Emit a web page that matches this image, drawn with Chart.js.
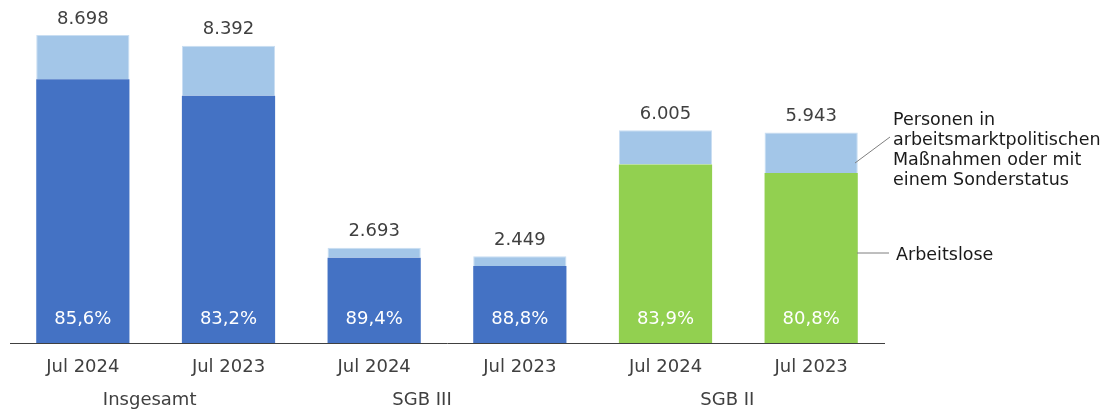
<!DOCTYPE html>
<html>
<head>
<meta charset="utf-8">
<script src="https://cdn.jsdelivr.net/npm/chart.js@4.4.1/dist/chart.umd.min.js"></script>
<style>
  html, body { margin: 0; padding: 0; background: #fff; }
  #wrap { width: 1103px; height: 409px; position: relative; }
</style>
</head>
<body>
<div id="wrap"><canvas id="chart"></canvas></div>
<script>
// Chart data
const periods = ['Jul 2024', 'Jul 2023', 'Jul 2024', 'Jul 2023', 'Jul 2024', 'Jul 2023'];
const groups = ['Insgesamt', 'SGB III', 'SGB II'];
const arbeitslose = [7446, 6982, 2408, 2175, 5038, 4802];
const sonstige = [1252, 1410, 285, 274, 967, 1141];
const totalLabels = ['8.698', '8.392', '2.693', '2.449', '6.005', '5.943'];
const shareLabels = ['85,6%', '83,2%', '89,4%', '88,8%', '83,9%', '80,8%'];

const FONT = '"DejaVu Sans", Verdana, sans-serif';
const darkColors = ['#4472C4', '#4472C4', '#4472C4', '#4472C4', '#92D050', '#92D050'];

// Labels above bars, inside bars, group labels and side notes
const labelPlugin = {
    id: 'labels',
    afterDatasetsDraw(chart) {
        const ctx = chart.ctx;
        const xScale = chart.scales.x;
        const topMeta = chart.getDatasetMeta(1);
        const botMeta = chart.getDatasetMeta(0);
        ctx.save();
        ctx.font = '18px ' + FONT;
        ctx.textAlign = 'center';
        ctx.textBaseline = 'middle';

        topMeta.data.forEach((bar, i) => {
            ctx.fillStyle = '#404040';
            ctx.fillText(totalLabels[i], bar.x, bar.y - 16);
        });
        botMeta.data.forEach((bar, i) => {
            ctx.fillStyle = '#ffffff';
            ctx.fillText(shareLabels[i], bar.x, chart.chartArea.bottom - 24);
        });

        // group labels under each pair
        const offsets = [-6, -25, -11];
        ctx.fillStyle = '#404040';
        groups.forEach((g, i) => {
            const mid = (xScale.getPixelForValue(i * 2) + xScale.getPixelForValue(i * 2 + 1)) / 2;
            ctx.fillText(g, mid + offsets[i], 400);
        });

        // side annotations
        ctx.strokeStyle = '#7f7f7f';
        ctx.lineWidth = 1;
        ctx.beginPath();
        ctx.moveTo(855, 163);
        ctx.lineTo(890, 137);
        ctx.moveTo(857, 253);
        ctx.lineTo(889, 253);
        ctx.stroke();

        ctx.font = '17.5px ' + FONT;
        ctx.fillStyle = '#1a1a1a';
        ctx.textAlign = 'left';
        ctx.textBaseline = 'alphabetic';
        const note = ['Personen in', 'arbeitsmarktpolitischen', 'Maßnahmen oder mit', 'einem Sonderstatus'];
        note.forEach((line, i) => ctx.fillText(line, 893, 125 + i * 20));
        ctx.fillText('Arbeitslose', 896, 260);
        ctx.restore();
    }
};

new Chart(document.getElementById('chart'), {
    type: 'bar',
    data: {
        labels: periods,
        datasets: [
            {
                label: 'Arbeitslose',
                data: arbeitslose,
                backgroundColor: darkColors,
                borderWidth: 0
            },
            {
                label: 'Personen in arbeitsmarktpolitischen Maßnahmen oder mit einem Sonderstatus',
                data: sonstige,
                backgroundColor: '#A3C6E8',
                borderColor: '#C9DEF2',
                borderWidth: 1
            }
        ]
    },
    options: {
        responsive: true,
        maintainAspectRatio: false,
        animation: false,
        layout: { padding: { left: 10, right: 219, top: 0, bottom: 0 } },
        datasets: { bar: { barPercentage: 0.64, categoryPercentage: 1 } },
        plugins: {
            legend: { display: false },
            tooltip: { enabled: false }
        },
        scales: {
            x: {
                stacked: true,
                grid: { display: false, drawTicks: false },
                border: { display: true, color: '#404040', width: 1 },
                ticks: {
                    color: '#404040',
                    font: { family: FONT, size: 18 },
                    padding: 14,
                    maxRotation: 0
                },
                afterFit(scale) { scale.height = 66; }
            },
            y: {
                stacked: true,
                display: false,
                min: 0,
                max: 9686
            }
        }
    },
    plugins: [labelPlugin]
});
</script>
</body>
</html>
